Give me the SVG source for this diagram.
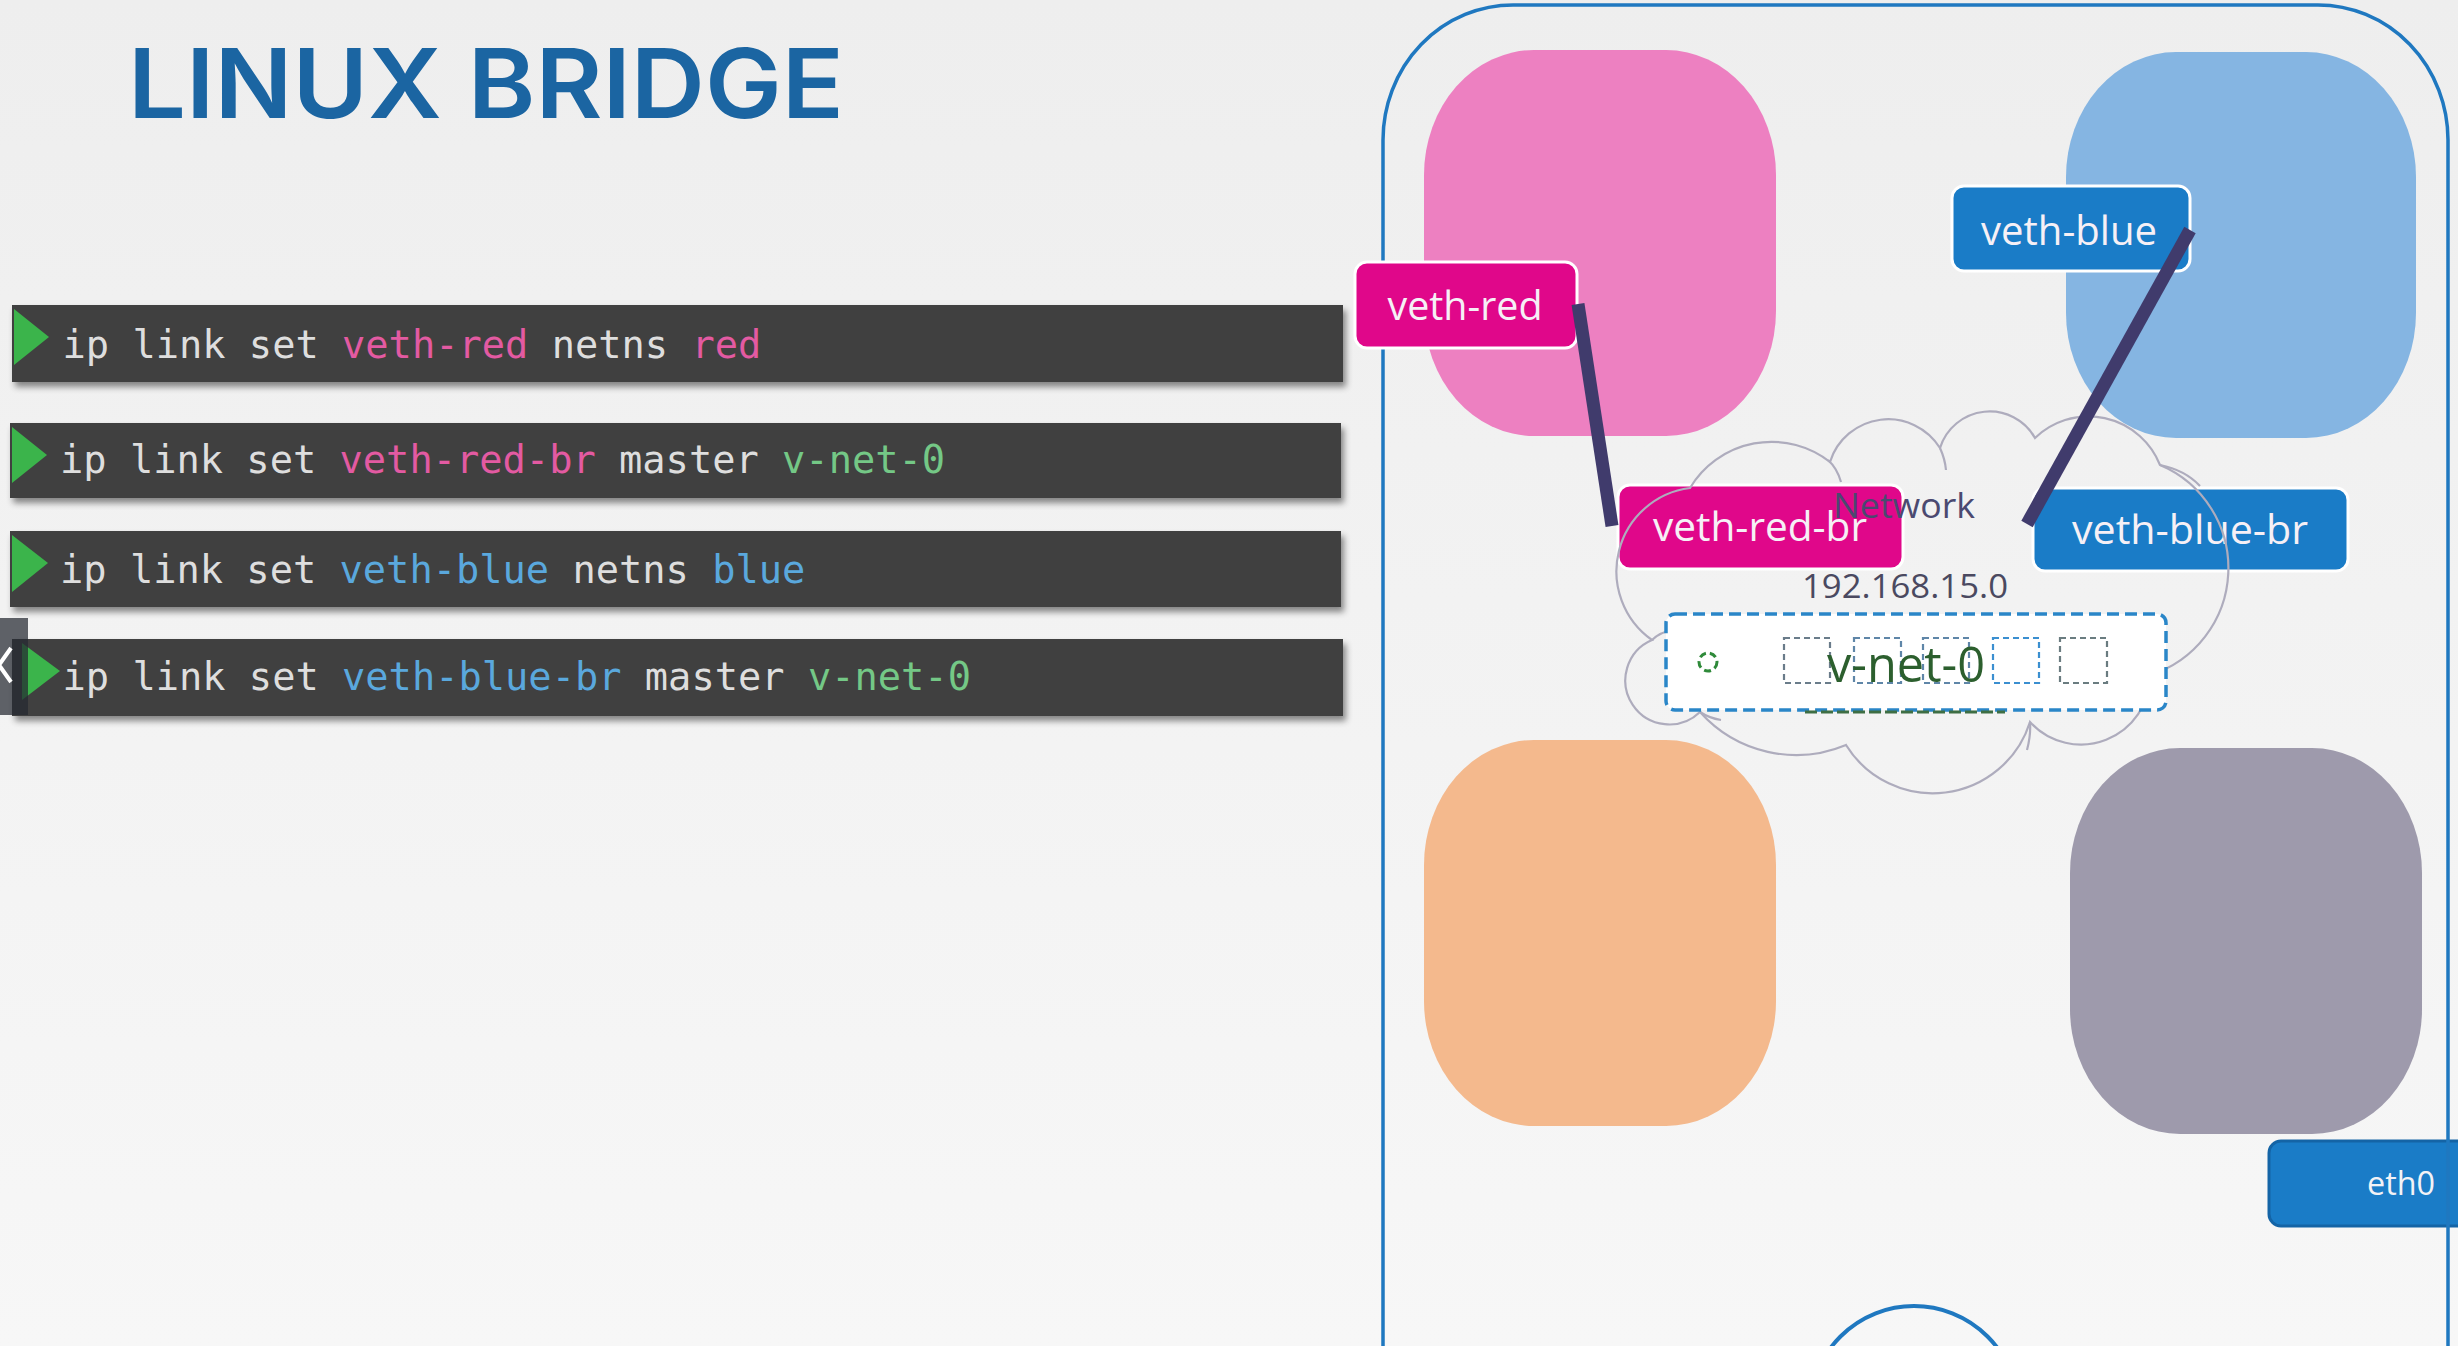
<svg xmlns="http://www.w3.org/2000/svg" width="2458" height="1346" viewBox="0 0 2458 1346">
<defs>
<linearGradient id="bg" x1="0" y1="0" x2="0" y2="1">
<stop offset="0" stop-color="#eeeeee"/>
<stop offset="1" stop-color="#f7f7f7"/>
</linearGradient>
<filter id="shadow" x="-2%" y="-20%" width="104%" height="150%">
<feDropShadow dx="3" dy="5" stdDeviation="3" flood-color="#000" flood-opacity="0.45"/>
</filter>
</defs>
<style>
.bar{fill:#414141;filter:url(#shadow)}
.play{fill:#3bb44b}
.cmd{font-family:"DejaVu Sans Mono","Liberation Mono",monospace;font-size:38.7px;fill:#dedede}
.pk{fill:#e35aa2}
.gr{fill:#74c886}
.bl{fill:#5aa8dd}
.ns{stroke:none}
.lbl{stroke:#ffffff;stroke-width:3}
.red{fill:#e0078a}
.blu{fill:#1a7cc7}
.lt{font-family:"Open Sans","Noto Sans",sans-serif;font-size:40px;fill:#f6f0f6;text-anchor:middle}
.conn{stroke:#403b6c;stroke-width:13;stroke-linecap:butt;fill:none}
.cloud{fill:none;stroke:#aeacbd;stroke-width:2.2}
.sq{fill:none;stroke-width:2.2;stroke-dasharray:6 4}
</style>
<rect width="2458" height="1346" fill="url(#bg)"/>
<text id="title" x="128" y="118" font-family="Inter,Lato,'Open Sans',sans-serif" font-weight="600" font-size="96" fill="#1b65a2" textLength="716" lengthAdjust="spacingAndGlyphs">LINUX BRIDGE</text>

<g id="cmd1">
<rect class="bar" x="12" y="305" width="1331" height="77"/>
<polygon class="play" points="14,309 49,337 14,365"/>
<text class="cmd" x="62.5" y="358">ip link set <tspan class="pk">veth-red</tspan> netns <tspan class="pk">red</tspan></text>
</g>
<g id="cmd2">
<rect class="bar" x="10" y="423" width="1331" height="75"/>
<polygon class="play" points="12,427 47,455 12,483"/>
<text class="cmd" x="60" y="473">ip link set <tspan class="pk">veth-red-br</tspan> master <tspan class="gr">v-net-0</tspan></text>
</g>
<g id="cmd3">
<rect class="bar" x="10" y="531" width="1331" height="76"/>
<polygon class="play" points="12,535 48,563 12,592"/>
<text class="cmd" x="60" y="583">ip link set <tspan class="bl">veth-blue</tspan> netns <tspan class="bl">blue</tspan></text>
</g>
<g id="cmd4">
<rect class="bar" x="12" y="639" width="1331" height="77"/>
<polygon class="play" points="22,643 60,671 22,700"/>
<text class="cmd" x="62.5" y="690">ip link set <tspan class="bl">veth-blue-br</tspan> master <tspan class="gr">v-net-0</tspan></text>
</g>
<g id="player-back">
<rect x="0" y="618" width="28" height="97" fill="#242830" fill-opacity="0.72"/>
<polyline points="11,648 -1,665 11,682" fill="none" stroke="#ffffff" stroke-width="4"/>
</g>

<g id="ns-red"><rect class="ns" x="1424" y="50" width="352" height="386" rx="110" ry="125" fill="#ed80c1"/></g>
<g id="ns-blue"><rect class="ns" x="2066" y="52" width="350" height="386" rx="110" ry="125" fill="#85b5e2"/></g>
<g id="ns-orange"><rect class="ns" x="1424" y="740" width="352" height="386" rx="110" ry="125" fill="#f4b98d"/></g>
<g id="ns-gray"><rect class="ns" x="2070" y="748" width="352" height="386" rx="110" ry="125" fill="#9e9aac"/></g>

<g id="eth0">
<rect x="2269" y="1141" width="220" height="85" rx="12" fill="#1a7cc7" stroke="#1464a6" stroke-width="3"/>
<text x="2367" y="1195" font-family="'Open Sans','Noto Sans',sans-serif" font-size="32" fill="#f2f2f6" textLength="68" lengthAdjust="spacingAndGlyphs">eth0</text>
</g>

<g id="host">
<rect x="1383" y="5" width="1065" height="1500" rx="130" ry="135" fill="none" stroke="#1f78c0" stroke-width="3.5"/>
<circle cx="1914" cy="1410" r="104" fill="none" stroke="#1f78c0" stroke-width="4"/>
</g>

<g id="veth-red">
<rect class="lbl red" x="1355" y="262" width="222" height="86" rx="12"/>
<text class="lt" x="1465" y="320" textLength="155" lengthAdjust="spacingAndGlyphs">veth-red</text>
</g>
<g id="veth-blue">
<rect class="lbl blu" x="1952" y="186" width="238" height="85" rx="12"/>
<text class="lt" x="2069" y="245" textLength="176" lengthAdjust="spacingAndGlyphs">veth-blue</text>
</g>
<g id="veth-red-br">
<rect class="lbl red" x="1618" y="485" width="285" height="84" rx="12"/>
<text class="lt" x="1760" y="541" textLength="214" lengthAdjust="spacingAndGlyphs">veth-red-br</text>
</g>
<g id="veth-blue-br">
<rect class="lbl blu" x="2033" y="488" width="315" height="83" rx="12"/>
<text class="lt" x="2190" y="544" textLength="236" lengthAdjust="spacingAndGlyphs">veth-blue-br</text>
</g>

<g id="network">
<path class="cloud" d="M1700 712 A44 44 0 1 1 1652 640 A84 84 0 0 1 1690 488 A95 95 0 0 1 1830 462 A61 61 0 0 1 1940 448 A52 52 0 0 1 2035 438 A77 77 0 0 1 2160 465 A112 112 0 0 1 2150 675 A69 69 0 0 1 2030 722 A102 102 0 0 1 1846 745 A129 129 0 0 1 1700 712 Z"/>
<path class="cloud" d="M1828 460 Q1837 468 1841 482 M2160 465 Q2185 470 2200 486 M1652 640 Q1660 632 1673 630 M1700 712 Q1709 718 1721 720 M2030 722 Q2031 735 2027 750 M2150 675 Q2141 689 2131 694 M1940 448 Q1945 459 1946 470"/>
<text x="1833" y="518" font-family="'Open Sans','Noto Sans',sans-serif" font-size="34" fill="#4b4970" textLength="142" lengthAdjust="spacingAndGlyphs">Network</text>
<text x="1802" y="598" font-family="'Open Sans','Noto Sans',sans-serif" font-size="33" fill="#4a4960" textLength="206" lengthAdjust="spacingAndGlyphs">192.168.15.0</text>
</g>

<g id="v-net-0">
<rect x="1666" y="614" width="500" height="96" rx="9" fill="#ffffff" stroke="#2a86c8" stroke-width="3.5" stroke-dasharray="12 6"/>
<line x1="1805" y1="712" x2="2005" y2="712" stroke="#3e6e44" stroke-width="3" stroke-dasharray="12 4"/>
<circle cx="1708" cy="662" r="9" fill="none" stroke="#2f8a3a" stroke-width="3" stroke-dasharray="7 4"/>
<rect class="sq" x="1784" y="638" width="46" height="45" stroke="#6a7c8a"/>
<rect class="sq" x="1854" y="638" width="47" height="45" stroke="#5f86a8"/>
<rect class="sq" x="1923" y="638" width="46" height="45" stroke="#5f86a8"/>
<rect class="sq" x="1993" y="638" width="46" height="45" stroke="#3b8fd0"/>
<rect class="sq" x="2060" y="638" width="47" height="45" stroke="#6a7c80"/>
<text x="1827" y="682" font-family="'Open Sans','Noto Sans',sans-serif" font-size="49" fill="#2c5f2e" textLength="158" lengthAdjust="spacingAndGlyphs">v-net-0</text>
</g>

<g id="connectors">
<line class="conn" x1="1578" y1="304" x2="1612" y2="526"/>
<line class="conn" x1="2190" y1="230" x2="2027" y2="524"/>
</g>
</svg>
